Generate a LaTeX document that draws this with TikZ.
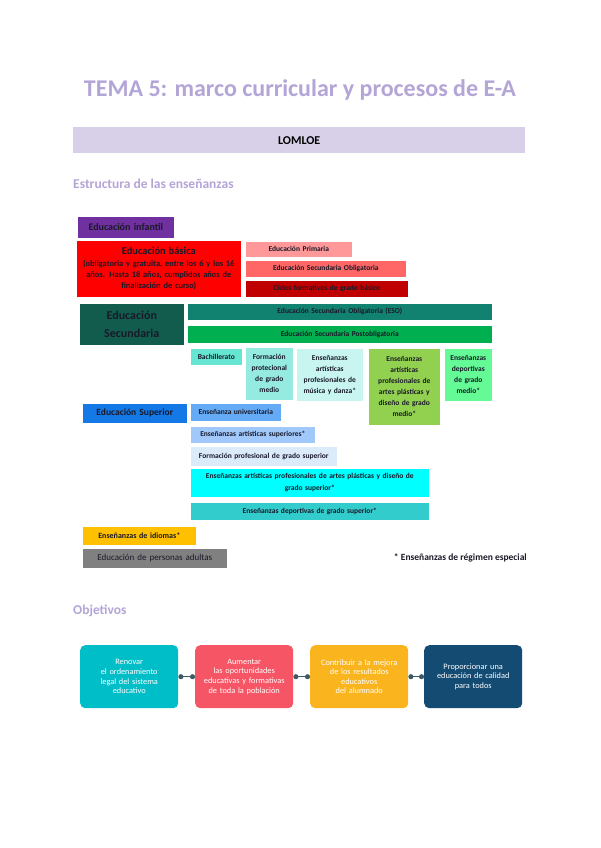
\documentclass[tikz,border=0pt]{standalone}
\usepackage{fontspec}
\setmainfont{Carlito}
\usetikzlibrary{arrows.meta}
\definecolor{lav}{RGB}{180,165,215}
\definecolor{lombar}{RGB}{216,208,232}
\definecolor{cinf}{RGB}{112,48,160}
\definecolor{cbas}{RGB}{255,0,0}
\definecolor{cprim}{RGB}{255,153,153}
\definecolor{ceso}{RGB}{255,102,102}
\definecolor{cciclo}{RGB}{192,0,0}
\definecolor{csec}{RGB}{18,92,78}
\definecolor{cesob}{RGB}{18,130,112}
\definecolor{cpost}{RGB}{0,176,80}
\definecolor{cbach}{RGB}{100,230,210}
\definecolor{cfpm}{RGB}{150,235,225}
\definecolor{cmus}{RGB}{200,245,240}
\definecolor{cartm}{RGB}{146,208,80}
\definecolor{cdepm}{RGB}{100,250,150}
\definecolor{csup}{RGB}{20,120,230}
\definecolor{cuni}{RGB}{100,170,245}
\definecolor{cartsup}{RGB}{160,200,250}
\definecolor{cfps}{RGB}{220,235,250}
\definecolor{cplas}{RGB}{0,255,255}
\definecolor{cdeps}{RGB}{51,204,204}
\definecolor{cidi}{RGB}{255,192,0}
\definecolor{cadu}{RGB}{128,128,128}
\definecolor{ob1}{RGB}{0,190,200}
\definecolor{ob2}{RGB}{245,85,100}
\definecolor{ob3}{RGB}{250,180,30}
\definecolor{ob4}{RGB}{20,75,115}
\definecolor{dotc}{RGB}{60,90,100}
\definecolor{txtd}{RGB}{25,25,40}
\hyphenpenalty=10000
\exhyphenpenalty=10000
\tikzset{
  cell/.style={anchor=north west, inner sep=1pt, align=center, font=\fontsize{7.5}{11}\selectfont\bfseries, text=txtd, draw=white, line width=0.6pt},
  objbox/.style={anchor=north west, rounded corners=5pt, minimum width=98pt, minimum height=63pt, text width=92pt, align=center, inner sep=0pt, text=white, font=\fontsize{8.3}{9.6}\selectfont},
  link/.style={draw=dotc, line width=1pt, {Circle[length=5pt]}-{Circle[length=5pt]}}
}
\newcommand{\cellbox}[8][]{\node[cell, #1, fill=#6, minimum width=#4pt, minimum height=#5pt, text width=#4pt-2pt] (#7) at (#2,#3) {#8};}
\begin{document}
\begin{tikzpicture}[x=1pt,y=-1pt]
\useasboundingbox (0,0) rectangle (600,848);
\fill[white] (0,0) rectangle (600,848);
\node[text=lav, font=\fontsize{24}{28}\selectfont\bfseries] (title) at (300,90) {TEMA 5: marco curricular y procesos de E-A};
\node[fill=lombar, anchor=north west, minimum width=452pt, minimum height=26pt, inner sep=0pt, font=\fontsize{12}{14}\selectfont\bfseries] (lomloe) at (73,127) {LOMLOE};
\node[anchor=west, text=lav, inner sep=0pt, font=\fontsize{13.5}{16}\selectfont\bfseries] (estr) at (73,184) {Estructura de las enseñanzas};

\cellbox[font=\fontsize{10}{12}\selectfont\bfseries]{77}{216}{97}{22}{cinf}{inf}{Educación infantil}
\cellbox[font=\fontsize{8.4}{11.3}\selectfont\bfseries]{76}{240}{165}{57}{cbas}{bas}{{\fontsize{10.5}{12}\selectfont Educación básica}\\ (obligatoria y gratuita, entre los 6 y los 16\\ años. Hasta 18 años, cumplidos años de\\ finalización de curso)}
\cellbox{245}{241}{107}{16}{cprim}{prim}{Educación Primaria}
\cellbox{245}{260}{161}{17}{ceso}{eso}{Educación Secundaria Obligatoria}
\cellbox{245}{280}{163}{17}{cciclo}{ciclo}{Ciclos formativos de grado básico}
\cellbox[font=\fontsize{12}{18}\selectfont\bfseries]{79}{303}{105}{42}{csec}{sec}{Educación\\ Secundaria}
\cellbox{187}{303}{305}{17}{cesob}{esob}{Educación Secundaria Obligatoria (ESO)}
\cellbox{187}{325}{305}{18}{cpost}{post}{Educación Secundaria Postobligatoria}
\cellbox{190}{348}{52}{17}{cbach}{bach}{Bachillerato}
\cellbox{245}{347}{48}{53}{cfpm}{fpm}{Formación\\ protecional\\ de grado\\ medio}
\cellbox{296}{348}{67}{53}{cmus}{mus}{Enseñanzas\\ artísticas\\ profesionales de\\ música y danza*}
\cellbox{368}{348}{72}{77}{cartm}{artm}{Enseñanzas\\ artísticas\\ profesionales de\\ artes plásticas y\\ diseño de grado\\ medio*}
\cellbox{444}{348}{48}{53}{cdepm}{depm}{Enseñanzas\\ deportivas\\ de grado\\ medio*}
\cellbox[font=\fontsize{9.5}{11}\selectfont\bfseries]{82}{403}{105}{20}{csup}{sup}{Educación Superior}
\cellbox{190}{403}{91}{18}{cuni}{uni}{Enseñanza universitaria}
\cellbox{190}{426}{125}{17}{cartsup}{artsup}{Enseñanzas artísticas superiores*}
\cellbox{190}{446}{147}{20}{cfps}{fps}{Formación profesional de grado superior}
\cellbox[font=\fontsize{7.5}{12}\selectfont\bfseries]{190}{468}{239}{29}{cplas}{plas}{Enseñanzas artísticas profesionales de artes plásticas y diseño de\\ grado superior*}
\cellbox{190}{502}{239}{18}{cdeps}{deps}{Enseñanzas deportivas de grado superior*}
\cellbox[font=\fontsize{8}{10}\selectfont\bfseries]{82}{526}{114}{19}{cidi}{idi}{Enseñanzas de idiomas*}
\cellbox[font=\fontsize{9}{11}\selectfont]{82}{548}{145}{20}{cadu}{adu}{Educación de personas adultas}
\node[anchor=east, inner sep=0pt, text=txtd, font=\fontsize{9.5}{11}\selectfont\bfseries] (nota) at (527,558) {* Enseñanzas de régimen especial};

\node[anchor=west, text=lav, inner sep=0pt, font=\fontsize{13.5}{16}\selectfont\bfseries] (obj) at (73,611) {Objetivos};
\node[objbox, fill=ob1] (o1) at (80,645) {Renovar\\ el ordenamiento\\ legal del sistema\\ educativo};
\node[objbox, fill=ob2] (o2) at (195,645) {Aumentar\\ las oportunidades\\ educativas y formativas\\ de toda la población};
\node[objbox, fill=ob3] (o3) at (310,645) {Contribuir a la mejora\\ de los resultados\\ educativos\\ del alumnado};
\node[objbox, fill=ob4] (o4) at (424,645) {Proporcionar una\\ educación de calidad\\ para todos};
\draw[link] (o1.east) -- (o2.west);
\draw[link] (o2.east) -- (o3.west);
\draw[link] (o3.east) -- (o4.west);
\end{tikzpicture}
\end{document}
